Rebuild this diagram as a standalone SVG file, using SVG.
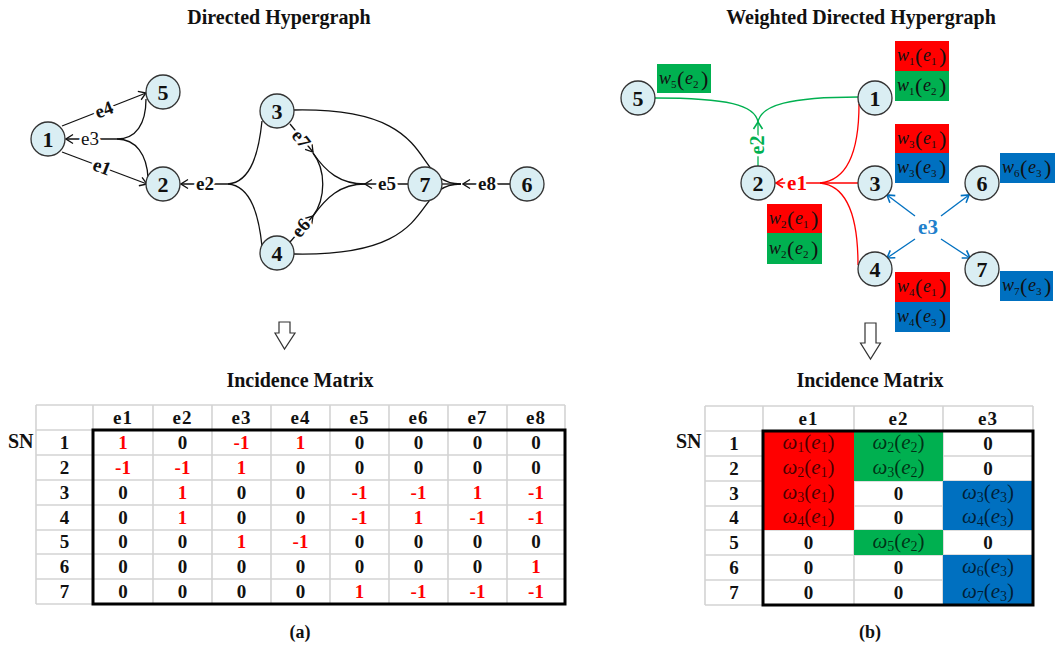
<svg xmlns="http://www.w3.org/2000/svg" width="1055" height="648" viewBox="0 0 1055 648">
<style>
text{font-family:"Liberation Serif","Times New Roman",serif;}
.title{font-size:20px;font-weight:bold;text-anchor:middle;fill:#111;}
.node circle{fill:#DAEEF3;stroke:#333;stroke-width:1.3;}
.node text{font-size:22px;font-weight:bold;text-anchor:middle;fill:#111;}
.ln{fill:none;stroke:#111;stroke-width:1.3;}
.lab{font-size:19px;font-weight:bold;text-anchor:middle;fill:#111;stroke:#fff;stroke-width:5;paint-order:stroke;stroke-linejoin:round;}
.red{stroke:#FF0000;}
.grn{stroke:#00B050;}
.blu{stroke:#0070C0;}
.grid line{stroke:#D3D3D3;stroke-width:1.6;}
.mt{font-size:19px;font-weight:bold;text-anchor:middle;fill:#111;}
.mr{fill:#FF0000;}
.wt{font-size:18px;font-style:italic;fill:#111;}
.wt .s{font-size:11px;font-style:normal;}
.wt .p{font-size:22px;font-style:normal;}
.om{font-size:21px;font-style:italic;text-anchor:middle;fill:#000;fill-opacity:0.72;}
.om .s{font-size:14px;font-style:normal;}
.om .p{font-style:normal;}
</style>
<defs>
<marker id="ak" viewBox="-9 -6 10 12" refX="0" refY="0" markerWidth="10" markerHeight="12" markerUnits="userSpaceOnUse" orient="auto"><path d="M-7,-4.5 L0,0 L-7,4.5" fill="none" stroke="#111" stroke-width="1.3"/></marker>
<marker id="ar" viewBox="-9 -6 10 12" refX="0" refY="0" markerWidth="10" markerHeight="12" markerUnits="userSpaceOnUse" orient="auto"><path d="M-7,-4.5 L0,0 L-7,4.5" fill="none" stroke="#FF0000" stroke-width="1.6"/></marker>
<marker id="ag" viewBox="-9 -6 10 12" refX="0" refY="0" markerWidth="10" markerHeight="12" markerUnits="userSpaceOnUse" orient="auto"><path d="M-7,-4.5 L0,0 L-7,4.5" fill="none" stroke="#00B050" stroke-width="1.6"/></marker>
<marker id="ab" viewBox="-9 -6 10 12" refX="0" refY="0" markerWidth="10" markerHeight="12" markerUnits="userSpaceOnUse" orient="auto"><path d="M-7,-4.5 L0,0 L-7,4.5" fill="none" stroke="#0070C0" stroke-width="1.6"/></marker>
</defs>
<rect width="1055" height="648" fill="#fff"/>

<text class="title" x="279" y="24">Directed Hypergraph</text>
<text class="title" x="861" y="24">Weighted Directed Hypergraph</text>

<!-- connectors left -->
<g id="connectors-left">
<line class="ln" x1="62" y1="126" x2="146" y2="93" marker-end="url(#ak)"/>
<line class="ln" x1="62" y1="152" x2="147" y2="184" marker-end="url(#ak)"/>
<path class="ln" d="M117,139 C136,139 146,124 146,99"/>
<path class="ln" d="M117,139 C136,139 147,155 148,178"/>
<line class="ln" x1="117" y1="139" x2="66" y2="139" marker-end="url(#ak)"/>
<path class="ln" d="M228,184 C252,182 259,150 262,121"/>
<path class="ln" d="M228,184 C252,186 259,218 262,246"/>
<line class="ln" x1="228" y1="184" x2="181" y2="184" marker-end="url(#ak)"/>
<line class="ln" x1="290" y1="124" x2="313" y2="152" marker-end="url(#ak)"/>
<line class="ln" x1="290" y1="242" x2="313" y2="216" marker-end="url(#ak)"/>
<path class="ln" d="M365,184 C340,184 326,172 313,153"/>
<path class="ln" d="M365,184 C340,184 326,198 313,216"/>
<path class="ln" d="M313,153 C326,170 326,198 313,216"/>
<line class="ln" x1="408" y1="184" x2="365" y2="184" marker-end="url(#ak)"/>
<path class="ln" d="M294,110 C445,107 408,184 461,184"/>
<path class="ln" d="M294,254 C445,257 408,184 461,184"/>
<line class="ln" x1="442" y1="184" x2="461" y2="184"/>
<line class="ln" x1="510" y1="184" x2="463" y2="184" marker-end="url(#ak)"/>
<text class="lab" transform="translate(104,110) rotate(-21)" y="6">e4</text>
<text class="lab" transform="translate(102,167) rotate(21)" y="6">e1</text>
<text class="lab" x="90" y="145" style="font-weight:normal">e3</text>
<text class="lab" x="205" y="190">e2</text>
<text class="lab" transform="translate(301,139) rotate(52)" y="6">e7</text>
<text class="lab" transform="translate(301,228) rotate(-50)" y="6">e6</text>
<text class="lab" x="387" y="190">e5</text>
<text class="lab" x="487" y="190">e8</text>
</g>

<g id="node-L1" class="node"><circle cx="48" cy="139" r="17"/><text x="48" y="146.5">1</text></g>
<g id="node-L5" class="node"><circle cx="163" cy="92" r="17"/><text x="163" y="99.5">5</text></g>
<g id="node-L2" class="node"><circle cx="163" cy="184" r="17"/><text x="163" y="191.5">2</text></g>
<g id="node-L3" class="node"><circle cx="277" cy="111" r="17"/><text x="277" y="118.5">3</text></g>
<g id="node-L4" class="node"><circle cx="277" cy="253" r="17"/><text x="277" y="260.5">4</text></g>
<g id="node-L7" class="node"><circle cx="425" cy="184" r="17"/><text x="425" y="191.5">7</text></g>
<g id="node-L6" class="node"><circle cx="527" cy="184" r="17"/><text x="527" y="191.5">6</text></g>

<!-- connectors right -->
<g id="connectors-right">
<path class="ln grn" d="M655,98 C728,98 755,105 758,122"/>
<path class="ln grn" d="M758,122 C761,105 790,97 858,97"/>
<line class="ln grn" x1="758" y1="166" x2="758" y2="122" marker-end="url(#ag)"/>
<path class="ln red" d="M820,183 C852,180 859,140 859,104"/>
<path class="ln red" d="M820,183 C852,186 858,230 858,265"/>
<line class="ln red" x1="820" y1="183" x2="858" y2="183"/>
<line class="ln red" x1="820" y1="183" x2="776" y2="183" marker-end="url(#ar)"/>
<line class="ln blu" x1="915" y1="216" x2="887" y2="195" marker-end="url(#ab)"/>
<line class="ln blu" x1="941" y1="216" x2="969" y2="195" marker-end="url(#ab)"/>
<line class="ln blu" x1="915" y1="239" x2="887" y2="258" marker-end="url(#ab)"/>
<line class="ln blu" x1="941" y1="239" x2="970" y2="258" marker-end="url(#ab)"/>
<text class="lab" x="797" y="190" style="fill:#FF0000;font-size:21px">e1</text>
<text class="lab" transform="translate(758,145) rotate(-90)" y="6" style="fill:#00B050;font-size:20px">e2</text>
<text x="928" y="234" style="font-size:21px;font-weight:bold;fill:#1F80CC;text-anchor:middle">e3</text>
</g>

<g id="node-R5" class="node"><circle cx="638" cy="98" r="17"/><text x="638" y="105.5">5</text></g>
<g id="node-R1" class="node"><circle cx="875" cy="98" r="17"/><text x="875" y="105.5">1</text></g>
<g id="node-R2" class="node"><circle cx="758" cy="183" r="17"/><text x="758" y="190.5">2</text></g>
<g id="node-R3" class="node"><circle cx="875" cy="183" r="17"/><text x="875" y="190.5">3</text></g>
<g id="node-R6" class="node"><circle cx="982" cy="183" r="17"/><text x="982" y="190.5">6</text></g>
<g id="node-R4" class="node"><circle cx="875" cy="269" r="17"/><text x="875" y="276.5">4</text></g>
<g id="node-R7" class="node"><circle cx="982" cy="269" r="17"/><text x="982" y="276.5">7</text></g>

<!-- weight labels -->
<g id="weights">
<rect x="657" y="64" width="54" height="29" fill="#00B050"/>
<text class="wt" y="84"><tspan x="659">w</tspan><tspan class="s" x="671" dy="4">5</tspan><tspan class="p" x="677" dy="-2">(</tspan><tspan x="685" dy="-2">e</tspan><tspan class="s" x="693" dy="4">2</tspan><tspan class="p" x="701" dy="-2">)</tspan></text>
<rect x="895" y="41" width="54" height="30" fill="#FF0000"/>
<text class="wt" y="61"><tspan x="897">w</tspan><tspan class="s" x="909" dy="4">1</tspan><tspan class="p" x="915" dy="-2">(</tspan><tspan x="923" dy="-2">e</tspan><tspan class="s" x="931" dy="4">1</tspan><tspan class="p" x="939" dy="-2">)</tspan></text>
<rect x="895" y="71" width="54" height="30" fill="#00B050"/>
<text class="wt" y="91"><tspan x="897">w</tspan><tspan class="s" x="909" dy="4">1</tspan><tspan class="p" x="915" dy="-2">(</tspan><tspan x="923" dy="-2">e</tspan><tspan class="s" x="931" dy="4">2</tspan><tspan class="p" x="939" dy="-2">)</tspan></text>
<rect x="895" y="124" width="54" height="29" fill="#FF0000"/>
<text class="wt" y="144"><tspan x="897">w</tspan><tspan class="s" x="909" dy="4">3</tspan><tspan class="p" x="915" dy="-2">(</tspan><tspan x="923" dy="-2">e</tspan><tspan class="s" x="931" dy="4">1</tspan><tspan class="p" x="939" dy="-2">)</tspan></text>
<rect x="895" y="153" width="54" height="30" fill="#0070C0"/>
<text class="wt" y="173"><tspan x="897">w</tspan><tspan class="s" x="909" dy="4">3</tspan><tspan class="p" x="915" dy="-2">(</tspan><tspan x="923" dy="-2">e</tspan><tspan class="s" x="931" dy="4">3</tspan><tspan class="p" x="939" dy="-2">)</tspan></text>
<rect x="1000" y="153" width="55" height="30" fill="#0070C0"/>
<text class="wt" y="173"><tspan x="1002">w</tspan><tspan class="s" x="1014" dy="4">6</tspan><tspan class="p" x="1020" dy="-2">(</tspan><tspan x="1028" dy="-2">e</tspan><tspan class="s" x="1036" dy="4">3</tspan><tspan class="p" x="1044" dy="-2">)</tspan></text>
<rect x="767" y="204" width="55" height="29" fill="#FF0000"/>
<text class="wt" y="224"><tspan x="769">w</tspan><tspan class="s" x="781" dy="4">2</tspan><tspan class="p" x="787" dy="-2">(</tspan><tspan x="795" dy="-2">e</tspan><tspan class="s" x="803" dy="4">1</tspan><tspan class="p" x="811" dy="-2">)</tspan></text>
<rect x="767" y="233" width="55" height="31" fill="#00B050"/>
<text class="wt" y="254"><tspan x="769">w</tspan><tspan class="s" x="781" dy="4">2</tspan><tspan class="p" x="787" dy="-2">(</tspan><tspan x="795" dy="-2">e</tspan><tspan class="s" x="803" dy="4">2</tspan><tspan class="p" x="811" dy="-2">)</tspan></text>
<rect x="895" y="272" width="55" height="30" fill="#FF0000"/>
<text class="wt" y="292"><tspan x="897">w</tspan><tspan class="s" x="909" dy="4">4</tspan><tspan class="p" x="915" dy="-2">(</tspan><tspan x="923" dy="-2">e</tspan><tspan class="s" x="931" dy="4">1</tspan><tspan class="p" x="939" dy="-2">)</tspan></text>
<rect x="895" y="302" width="55" height="30" fill="#0070C0"/>
<text class="wt" y="322"><tspan x="897">w</tspan><tspan class="s" x="909" dy="4">4</tspan><tspan class="p" x="915" dy="-2">(</tspan><tspan x="923" dy="-2">e</tspan><tspan class="s" x="931" dy="4">3</tspan><tspan class="p" x="939" dy="-2">)</tspan></text>
<rect x="1000" y="271" width="53" height="30" fill="#0070C0"/>
<text class="wt" y="291"><tspan x="1002">w</tspan><tspan class="s" x="1014" dy="4">7</tspan><tspan class="p" x="1020" dy="-2">(</tspan><tspan x="1028" dy="-2">e</tspan><tspan class="s" x="1036" dy="4">3</tspan><tspan class="p" x="1044" dy="-2">)</tspan></text>
</g>

<!-- down arrows -->
<path d="M279,322 H290 V333 H295 L284.5,349 L275,333 H279 Z" fill="#fff" stroke="#333" stroke-width="1.2"/>
<path d="M865,323 H876 V343 H880.5 L870.5,359 L860.5,343 H865 Z" fill="#fff" stroke="#333" stroke-width="1.2"/>

<text class="title" x="300" y="387">Incidence Matrix</text>
<text class="title" x="870" y="387">Incidence Matrix</text>

<!-- left matrix -->
<g id="matrix-left">
<g class="grid">
<line x1="36" y1="405" x2="36" y2="604"/><line x1="93" y1="405" x2="93" y2="604"/><line x1="153" y1="405" x2="153" y2="604"/><line x1="212" y1="405" x2="212" y2="604"/><line x1="271" y1="405" x2="271" y2="604"/><line x1="330" y1="405" x2="330" y2="604"/><line x1="389" y1="405" x2="389" y2="604"/><line x1="448" y1="405" x2="448" y2="604"/><line x1="507" y1="405" x2="507" y2="604"/><line x1="565" y1="405" x2="565" y2="604"/>
<line x1="36" y1="405" x2="565" y2="405"/><line x1="36" y1="430" x2="565" y2="430"/><line x1="36" y1="455" x2="565" y2="455"/><line x1="36" y1="480" x2="565" y2="480"/><line x1="36" y1="505" x2="565" y2="505"/><line x1="36" y1="530" x2="565" y2="530"/><line x1="36" y1="554" x2="565" y2="554"/><line x1="36" y1="579" x2="565" y2="579"/><line x1="36" y1="604" x2="565" y2="604"/>
</g>
<rect x="93" y="430" width="472" height="174" fill="none" stroke="#000" stroke-width="3"/>
<text x="8" y="448" style="font-size:20px;font-weight:bold;fill:#111">SN</text>
<g class="mt" style="letter-spacing:1px">
<text x="123" y="424">e1</text><text x="182.5" y="424">e2</text><text x="241.5" y="424">e3</text><text x="300.5" y="424">e4</text><text x="359.5" y="424">e5</text><text x="418.5" y="424">e6</text><text x="477.5" y="424">e7</text><text x="536" y="424">e8</text>
</g>
<g class="mt">
<text x="64.5" y="449">1</text><text x="64.5" y="474">2</text><text x="64.5" y="499">3</text><text x="64.5" y="524">4</text><text x="64.5" y="548">5</text><text x="64.5" y="573">6</text><text x="64.5" y="598">7</text>
<text class="mr" x="123" y="449">1</text><text x="182.5" y="449">0</text><text class="mr" x="241.5" y="449">-1</text><text class="mr" x="300.5" y="449">1</text><text x="359.5" y="449">0</text><text x="418.5" y="449">0</text><text x="477.5" y="449">0</text><text x="536" y="449">0</text>
<text class="mr" x="123" y="474">-1</text><text class="mr" x="182.5" y="474">-1</text><text class="mr" x="241.5" y="474">1</text><text x="300.5" y="474">0</text><text x="359.5" y="474">0</text><text x="418.5" y="474">0</text><text x="477.5" y="474">0</text><text x="536" y="474">0</text>
<text x="123" y="499">0</text><text class="mr" x="182.5" y="499">1</text><text x="241.5" y="499">0</text><text x="300.5" y="499">0</text><text class="mr" x="359.5" y="499">-1</text><text class="mr" x="418.5" y="499">-1</text><text class="mr" x="477.5" y="499">1</text><text class="mr" x="536" y="499">-1</text>
<text x="123" y="524">0</text><text class="mr" x="182.5" y="524">1</text><text x="241.5" y="524">0</text><text x="300.5" y="524">0</text><text class="mr" x="359.5" y="524">-1</text><text class="mr" x="418.5" y="524">1</text><text class="mr" x="477.5" y="524">-1</text><text class="mr" x="536" y="524">-1</text>
<text x="123" y="548">0</text><text x="182.5" y="548">0</text><text class="mr" x="241.5" y="548">1</text><text class="mr" x="300.5" y="548">-1</text><text x="359.5" y="548">0</text><text x="418.5" y="548">0</text><text x="477.5" y="548">0</text><text x="536" y="548">0</text>
<text x="123" y="573">0</text><text x="182.5" y="573">0</text><text x="241.5" y="573">0</text><text x="300.5" y="573">0</text><text x="359.5" y="573">0</text><text x="418.5" y="573">0</text><text x="477.5" y="573">0</text><text class="mr" x="536" y="573">1</text>
<text x="123" y="598">0</text><text x="182.5" y="598">0</text><text x="241.5" y="598">0</text><text x="300.5" y="598">0</text><text class="mr" x="359.5" y="598">1</text><text class="mr" x="418.5" y="598">-1</text><text class="mr" x="477.5" y="598">-1</text><text class="mr" x="536" y="598">-1</text>
</g>
</g>

<!-- right matrix -->
<g id="matrix-right">
<g class="grid">
<line x1="705" y1="406" x2="705" y2="605"/><line x1="763" y1="406" x2="763" y2="605"/><line x1="854" y1="406" x2="854" y2="605"/><line x1="943" y1="406" x2="943" y2="605"/><line x1="1033" y1="406" x2="1033" y2="605"/>
<line x1="705" y1="406" x2="1033" y2="406"/><line x1="705" y1="431" x2="1033" y2="431"/><line x1="705" y1="456" x2="1033" y2="456"/><line x1="705" y1="481" x2="1033" y2="481"/><line x1="705" y1="506" x2="1033" y2="506"/><line x1="705" y1="530" x2="1033" y2="530"/><line x1="705" y1="555" x2="1033" y2="555"/><line x1="705" y1="580" x2="1033" y2="580"/><line x1="705" y1="605" x2="1033" y2="605"/>
</g>
<rect x="763" y="431" width="91" height="99" fill="#FF0000"/>
<rect x="854" y="431" width="89" height="50" fill="#00B050"/>
<rect x="854" y="530" width="89" height="25" fill="#00B050"/>
<rect x="943" y="481" width="90" height="49" fill="#0070C0"/>
<rect x="943" y="555" width="90" height="50" fill="#0070C0"/>
<rect x="763" y="431" width="270" height="174" fill="none" stroke="#000" stroke-width="3"/>
<text x="676" y="448" style="font-size:20px;font-weight:bold;fill:#111">SN</text>
<g class="mt" style="letter-spacing:1px">
<text x="808.5" y="425">e1</text><text x="898.5" y="425">e2</text><text x="988" y="425">e3</text>
</g>
<g class="mt">
<text x="734" y="450">1</text><text x="734" y="475">2</text><text x="734" y="500">3</text><text x="734" y="524">4</text><text x="734" y="549">5</text><text x="734" y="574">6</text><text x="734" y="599">7</text>
<text x="988" y="450">0</text><text x="988" y="475">0</text>
<text x="898.5" y="500">0</text><text x="898.5" y="524">0</text>
<text x="808.5" y="549">0</text><text x="988" y="549">0</text>
<text x="808.5" y="574">0</text><text x="898.5" y="574">0</text>
<text x="808.5" y="599">0</text><text x="898.5" y="599">0</text>
</g>
<text class="om" x="808.5" y="449">ω<tspan class="s" dy="3">1</tspan><tspan class="p" dy="-3">(</tspan>e<tspan class="s" dy="3">1</tspan><tspan class="p" dy="-3">)</tspan></text>
<text class="om" x="808.5" y="474">ω<tspan class="s" dy="3">2</tspan><tspan class="p" dy="-3">(</tspan>e<tspan class="s" dy="3">1</tspan><tspan class="p" dy="-3">)</tspan></text>
<text class="om" x="808.5" y="499">ω<tspan class="s" dy="3">3</tspan><tspan class="p" dy="-3">(</tspan>e<tspan class="s" dy="3">1</tspan><tspan class="p" dy="-3">)</tspan></text>
<text class="om" x="808.5" y="523">ω<tspan class="s" dy="3">4</tspan><tspan class="p" dy="-3">(</tspan>e<tspan class="s" dy="3">1</tspan><tspan class="p" dy="-3">)</tspan></text>
<text class="om" x="898.5" y="449">ω<tspan class="s" dy="3">2</tspan><tspan class="p" dy="-3">(</tspan>e<tspan class="s" dy="3">2</tspan><tspan class="p" dy="-3">)</tspan></text>
<text class="om" x="898.5" y="474">ω<tspan class="s" dy="3">3</tspan><tspan class="p" dy="-3">(</tspan>e<tspan class="s" dy="3">2</tspan><tspan class="p" dy="-3">)</tspan></text>
<text class="om" x="898.5" y="548">ω<tspan class="s" dy="3">5</tspan><tspan class="p" dy="-3">(</tspan>e<tspan class="s" dy="3">2</tspan><tspan class="p" dy="-3">)</tspan></text>
<text class="om" x="988" y="499">ω<tspan class="s" dy="3">3</tspan><tspan class="p" dy="-3">(</tspan>e<tspan class="s" dy="3">3</tspan><tspan class="p" dy="-3">)</tspan></text>
<text class="om" x="988" y="523">ω<tspan class="s" dy="3">4</tspan><tspan class="p" dy="-3">(</tspan>e<tspan class="s" dy="3">3</tspan><tspan class="p" dy="-3">)</tspan></text>
<text class="om" x="988" y="573">ω<tspan class="s" dy="3">6</tspan><tspan class="p" dy="-3">(</tspan>e<tspan class="s" dy="3">3</tspan><tspan class="p" dy="-3">)</tspan></text>
<text class="om" x="988" y="598">ω<tspan class="s" dy="3">7</tspan><tspan class="p" dy="-3">(</tspan>e<tspan class="s" dy="3">3</tspan><tspan class="p" dy="-3">)</tspan></text>
</g>

<text x="300" y="638" style="font-size:18px;font-weight:bold;text-anchor:middle;fill:#111">(a)</text>
<text x="870" y="638" style="font-size:18px;font-weight:bold;text-anchor:middle;fill:#111">(b)</text>
</svg>
